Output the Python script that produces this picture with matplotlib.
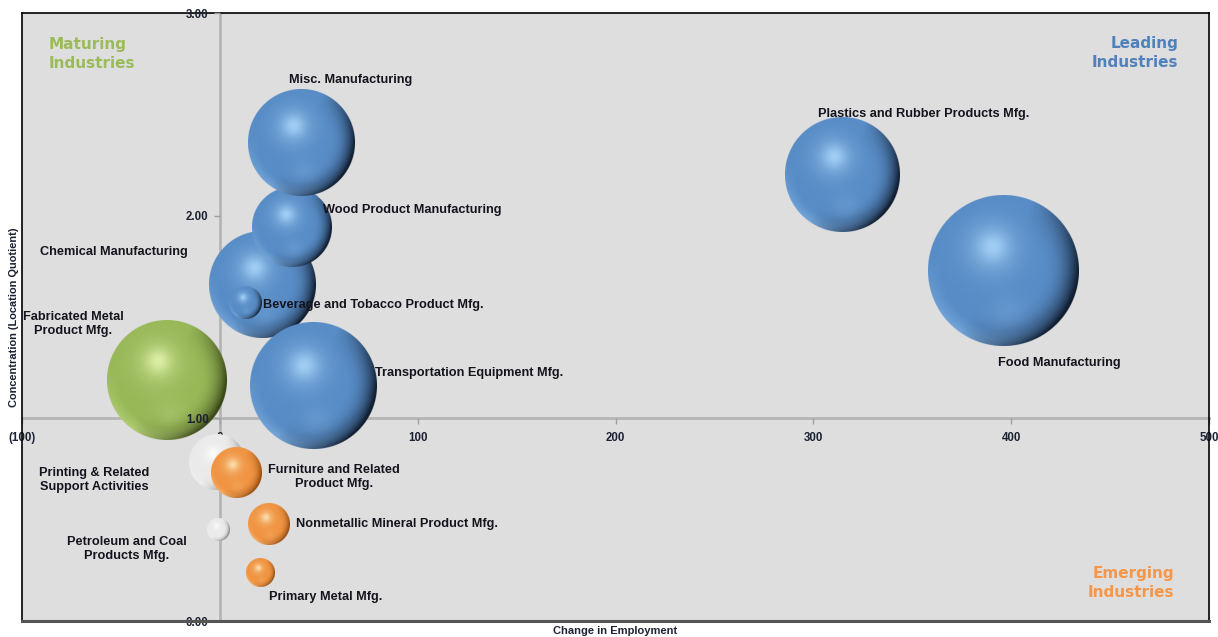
import numpy as np
import matplotlib
matplotlib.use("Agg")
import matplotlib.pyplot as plt
from matplotlib.ticker import FixedLocator, FuncFormatter

# ---- data -------------------------------------------------------------
industries = [
    "Printing & Related\nSupport Activities",
    "Furniture and Related\nProduct Mfg.",
    "Petroleum and Coal\nProducts Mfg.",
    "Nonmetallic Mineral Product Mfg.",
    "Primary Metal Mfg.",
    "Fabricated Metal\nProduct Mfg.",
    "Chemical Manufacturing",
    "Wood Product Manufacturing",
    "Misc. Manufacturing",
    "Beverage and Tobacco Product Mfg.",
    "Transportation Equipment Mfg.",
    "Plastics and Rubber Products Mfg.",
    "Food Manufacturing",
]
employment_change = [-1.5, 8.3, -1.0, 25.0, 20.5, -26.7, 21.3, 36.3, 41.0, 13.1, 47.1, 314.5, 395.9]
location_quotient = [0.78, 0.73, 0.45, 0.48, 0.24, 1.19, 1.66, 1.94, 2.36, 1.57, 1.16, 2.20, 1.73]
employment = [756, 640, 121, 433, 207, 3560, 2810, 1560, 2830, 266, 3970, 3250, 5670]

x_ticks = [-100, 0, 100, 200, 300, 400, 500]
y_ticks = [0.0, 1.0, 2.0, 3.0]

# label placement relative to each bubble centre (pixels, y up)
label_offsets = [
    (-123, -17), (98, -4), (-91, -19), (128, 0), (65, -25), (-94, 56),
    (-148, 33), (121, 18), (50, 63), (128, -2), (156, 13), (82, 61), (56, -93),
]

# quadrant palettes: (shadow, body, highlight)
PAL_LEADING = ((16, 30, 50), (88, 140, 198), (178, 222, 255))
PAL_MATURING = ((58, 72, 24), (152, 184, 88), (236, 252, 185))
PAL_EMERGING = ((150, 74, 12), (240, 148, 66), (255, 238, 195))
PAL_DECLINING = ((128, 128, 128), (234, 234, 234), (255, 255, 255))


def palette_for(x, y):
    if y >= 1:
        return PAL_LEADING if x >= 0 else PAL_MATURING
    return PAL_EMERGING if x >= 0 else PAL_DECLINING


def sphere_rgba(palette, n):
    dark, body, light = [np.array(c, float) / 255 for c in palette]
    g = (np.arange(n) + 0.5) / n * 2 - 1
    u, v = np.meshgrid(g, -g)
    r = np.sqrt(u ** 2 + v ** 2)

    edge = np.clip((r - 0.5) / 0.5, 0, 1) ** 2
    side = np.clip(0.8 * u - 0.45 * v + 0.1, 0, 1)
    under = np.clip(-v - 0.2 * u, 0, 1) * np.clip((r - 0.8) / 0.2, 0, 1)
    glow = np.exp(-((u - 0.05) ** 2 + (v + 0.55) ** 2) / 0.06)
    hl_wide = np.exp(-((u + 0.15) ** 2 + (v - 0.30) ** 2) / 0.13)
    hl_core = np.exp(-((u + 0.14) ** 2 + (v - 0.32) ** 2) / 0.035)

    # darken towards the lower-right limb
    shade = np.clip(1.15 * edge * side, 0, 1)
    col = body + (dark - body) * shade[..., None]
    # soft bounce light along the bottom and a faint inner reflection
    lift = np.clip(0.35 * under * (1 - shade) + 0.12 * glow, 0, 1)
    col = col + (light - col) * lift[..., None]
    # specular highlight, upper left of centre
    spec = np.clip(0.45 * hl_wide + 0.35 * hl_core, 0, 1)
    col = col + (light - col) * spec[..., None]
    col = np.clip(col, 0, 1)

    alpha = np.clip((1 - r) * n / 2 + 0.5, 0, 1)
    return np.dstack([col, alpha])


# ---- figure -----------------------------------------------------------
W, H_ = 1218, 637
fig = plt.figure(figsize=(W / 100, H_ / 100), dpi=100)
fig.patch.set_facecolor("white")
ax = fig.add_axes([22 / W, 16 / H_, 1187 / W, 608 / H_])
ax.set_facecolor("#dedede")
ax.set_xlim(x_ticks[0], x_ticks[-1])
ax.set_ylim(y_ticks[0], y_ticks[-1])

# axes cross at x = 0 and y = 1
for side in ("left", "bottom"):
    ax.spines[side].set_color("#b5b5b5")
    ax.spines[side].set_linewidth(2)
    ax.spines[side].set_zorder(0.5)
ax.spines["left"].set_position(("data", 0))
ax.spines["bottom"].set_position(("data", 1))
for side in ("top", "right"):
    ax.spines[side].set_color("black")
    ax.spines[side].set_linewidth(1.2)
ax.plot([0, 0], [0, 1], transform=ax.transAxes, color="black", lw=1.2,
        clip_on=False, zorder=5)
ax.plot([0, 1], [0, 0], transform=ax.transAxes, color="#555555", lw=2.2,
        clip_on=False, zorder=5)

ax.xaxis.set_major_locator(FixedLocator(x_ticks))
ax.yaxis.set_major_locator(FixedLocator(y_ticks))
ax.xaxis.set_major_formatter(FuncFormatter(
    lambda v, p: f"({abs(v):.0f})" if v < 0 else f"{v:.0f}"))
ax.yaxis.set_major_formatter(FuncFormatter(lambda v, p: f"{v:.2f}"))
ax.tick_params(axis="x", direction="out", length=4, width=1, color="#a0a0a0",
               pad=6, labelcolor="#1c2233")
ax.tick_params(axis="y", direction="out", length=4, width=1, color="#a0a0a0",
               pad=4, labelcolor="#1c2233")
for lab in ax.get_xticklabels() + ax.get_yticklabels():
    lab.set_fontfamily("Liberation Sans")
    lab.set_fontweight("bold")
    lab.set_fontsize(8.3)
ax.xaxis.set_zorder(0.8)
ax.yaxis.set_zorder(4)

# ---- bubbles ----------------------------------------------------------
plot_h = ax.bbox.height
r_max = 0.124 * plot_h
emp_max = max(employment)
inv = ax.transData.inverted()
for i, (x, y, e) in enumerate(zip(employment_change, location_quotient, employment)):
    r_px = r_max * np.sqrt(e / emp_max)
    cx, cy = ax.transData.transform((x, y))
    (x0, y0) = inv.transform((cx - r_px, cy - r_px))
    (x1, y1) = inv.transform((cx + r_px, cy + r_px))
    n = int(r_px * 4) + 8
    img = sphere_rgba(palette_for(x, y), n)
    ax.imshow(img, extent=(x0, x1, y0, y1), origin="upper", aspect="auto",
              interpolation="antialiased", zorder=1 + i * 0.01)
    dx, dy = label_offsets[i]
    ax.annotate(industries[i], (x, y), xytext=(dx, dy), textcoords="offset pixels",
                ha="center", va="center", multialignment="center",
                family="Liberation Sans", weight="bold", size=9.2,
                color="#14141e", zorder=6, linespacing=1.18)

ax.set_xlim(x_ticks[0], x_ticks[-1])
ax.set_ylim(y_ticks[0], y_ticks[-1])

# ---- quadrant captions --------------------------------------------------
quad_font = dict(family="DejaVu Sans", weight="bold", size=11, linespacing=1.35)
ax.text(27 / 1187, 1 - (37 - 13) / 608, "Maturing\nIndustries", transform=ax.transAxes,
        ha="left", va="top", color="#9bbb59", **quad_font)
ax.text((1178 - 22) / 1187, 1 - (36 - 13) / 608, "Leading\nIndustries",
        transform=ax.transAxes, ha="right", va="top", color="#4f81bd", **quad_font)
ax.text((1174 - 22) / 1187, (621 - 600) / 608, "Emerging\nIndustries",
        transform=ax.transAxes, ha="right", va="bottom", color="#f79646", **quad_font)

# ---- axis titles --------------------------------------------------------
fig.text((22 + 1187 / 2) / W, 1 - 631 / H_, "Change in Employment",
         ha="center", va="center", family="Liberation Sans", weight="bold",
         size=8, color="#1c2233")
fig.text(14 / W, 1 - 317 / H_, "Concentration (Location Quotient)",
         ha="center", va="center", rotation=90, family="Liberation Sans",
         weight="bold", size=7.9, color="#1c2233")

fig.savefig("out.png", dpi=100, facecolor="white")
